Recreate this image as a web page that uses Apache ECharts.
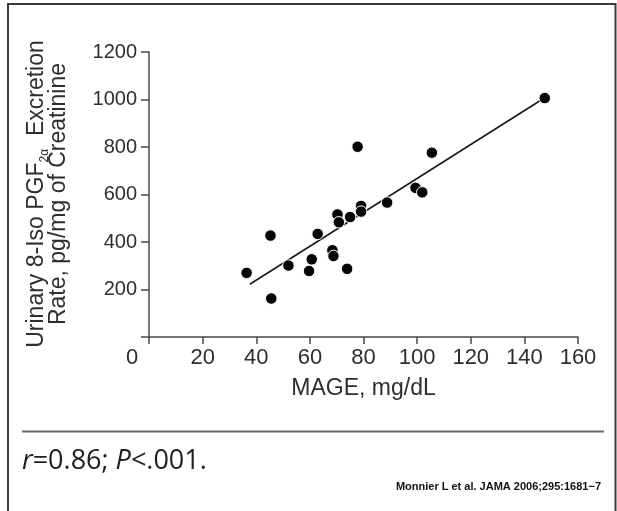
<!DOCTYPE html>
<html>
<head>
<meta charset="utf-8">
<script src="https://cdn.jsdelivr.net/npm/echarts@6/dist/echarts.min.js"></script>
<style>
html,body{margin:0;padding:0;background:#fff;}
#c{width:617px;height:511px;}
</style>
</head>
<body>
<div id="c"></div>
<script>
// MAGE (mg/dL) values of each patient
var mageValues = [36.4, 45.3, 45.6, 52.0, 59.7, 60.7, 62.9, 68.4, 68.8, 70.3, 70.8, 73.9, 75.0, 77.8, 79.1, 79.1, 88.8, 99.4, 101.9, 105.5, 147.6];
// Urinary 8-iso PGF2a excretion rate (pg/mg creatinine)
var pgfValues  = [270, 427, 162, 301, 278, 327, 434, 365, 341, 516, 483, 287, 505, 801, 552, 528, 566, 628, 609, 776, 1006];
// regression line endpoints
var fitX = [37.6, 146.7];
var fitY = [222, 1001];
// axis ticks
var xTicks = [0, 20, 40, 60, 80, 100, 120, 140, 160];
var yTicks = [0, 200, 400, 600, 800, 1000, 1200];

var xTitle = 'MAGE, mg/dL';
var yTitleLine1a = 'Urinary 8-Iso PGF';
var yTitleSub = '2α';
var yTitleLine1b = '  Excretion';
var yTitleLine2 = 'Rate, pg/mg of Creatinine';
var statText = ['r', '=0.86; ', 'P', '<.001.'];
var citation = 'Monnier L et al. JAMA 2006;295:1681\u22127';

var points = mageValues.map(function (x, i) { return [x, pgfValues[i]]; });
var fitLine = fitX.map(function (x, i) { return [x, fitY[i]]; });

var chart = echarts.init(document.getElementById('c'), null, {renderer: 'canvas'});
var axisColor = '#4a4a4a';
var labelColor = '#2e2e2e';
chart.setOption({
  animation: false,
  backgroundColor: '#ffffff',
  grid: {left: 149, right: 39, top: 52, bottom: 174, containLabel: false},
  xAxis: {
    type: 'value',
    min: xTicks[0], max: xTicks[xTicks.length - 1], interval: xTicks[1] - xTicks[0],
    name: xTitle, nameLocation: 'middle', nameGap: 40,
    nameTextStyle: {fontFamily: 'Liberation Sans', fontSize: 23, color: labelColor},
    axisLine: {show: true, lineStyle: {color: axisColor, width: 1.5}},
    axisTick: {show: true, length: 7, lineStyle: {color: axisColor, width: 1.5}},
    axisLabel: {
      margin: 10, fontFamily: 'Liberation Sans', fontSize: 22, color: labelColor,
      formatter: function (v) { return v === 0 ? '{z|0}' : String(v); },
      rich: {z: {fontFamily: 'Liberation Sans', fontSize: 22, color: labelColor, padding: [0, 34, 0, 0]}}
    },
    splitLine: {show: false}
  },
  yAxis: {
    type: 'value',
    min: yTicks[0], max: yTicks[yTicks.length - 1], interval: yTicks[1] - yTicks[0],
    axisLine: {show: true, lineStyle: {color: axisColor, width: 1.5}},
    axisTick: {show: true, length: 8, lineStyle: {color: axisColor, width: 1.5}},
    axisLabel: {
      margin: 12, fontFamily: 'Liberation Sans', fontSize: 20, color: labelColor,
      formatter: function (v) { return v === 0 ? '' : String(v); }
    },
    splitLine: {show: false}
  },
  series: [
    {
      type: 'line', data: fitLine, symbol: 'none', z: 2,
      lineStyle: {color: '#1a1a1a', width: 1.6}
    },
    {
      type: 'scatter', data: points, symbol: 'circle', symbolSize: 11.5, z: 3,
      itemStyle: {color: '#050505', borderColor: '#ffffff', borderWidth: 1, opacity: 1}
    }
  ],
  graphic: [
    {
      type: 'polyline', silent: true,
      shape: {points: [[8, 520], [8, 4], [615.5, 4], [615.5, 520]]},
      style: {stroke: '#3c3c3c', lineWidth: 2, fill: null}
    },
    {
      type: 'line', silent: true,
      shape: {x1: 22, y1: 431.5, x2: 604, y2: 431.5},
      style: {stroke: '#6a6a6a', lineWidth: 2}
    },
    {
      type: 'text', silent: true,
      x: 46, y: 194, rotation: Math.PI / 2,
      style: {
        text: '{a|' + yTitleLine1a + '}{s|' + yTitleSub + '}{a|' + yTitleLine1b + '}\n{b|' + yTitleLine2 + '}',
        align: 'center', verticalAlign: 'middle',
        rich: {
          a: {fontFamily: 'Liberation Sans', fontSize: 23, lineHeight: 22, verticalAlign: 'top', fill: labelColor},
          s: {fontFamily: 'Liberation Sans', fontSize: 12, verticalAlign: 'top', padding: [13, 0, 0, 0], fill: labelColor},
          b: {fontFamily: 'Liberation Sans', fontSize: 23, lineHeight: 16, fill: labelColor}
        }
      }
    },
    {
      type: 'text', silent: true,
      x: 22, y: 461,
      style: {
        text: '{i|' + statText[0] + '}{n|' + statText[1] + '}{i|' + statText[2] + '}{n|' + statText[3] + '}',
        align: 'left', verticalAlign: 'middle',
        rich: {
          i: {fontFamily: 'Open Sans', fontStyle: 'italic', fontSize: 27, fill: '#1e1e1e'},
          n: {fontFamily: 'Open Sans', fontSize: 27, fill: '#1e1e1e'}
        }
      }
    },
    {
      type: 'text', silent: true,
      x: 601, y: 486.5,
      style: {
        text: citation, align: 'right', verticalAlign: 'middle',
        fontFamily: 'Liberation Sans', fontWeight: 'bold', fontSize: 11, fill: '#111'
      }
    }
  ]
});
</script>
</body>
</html>
